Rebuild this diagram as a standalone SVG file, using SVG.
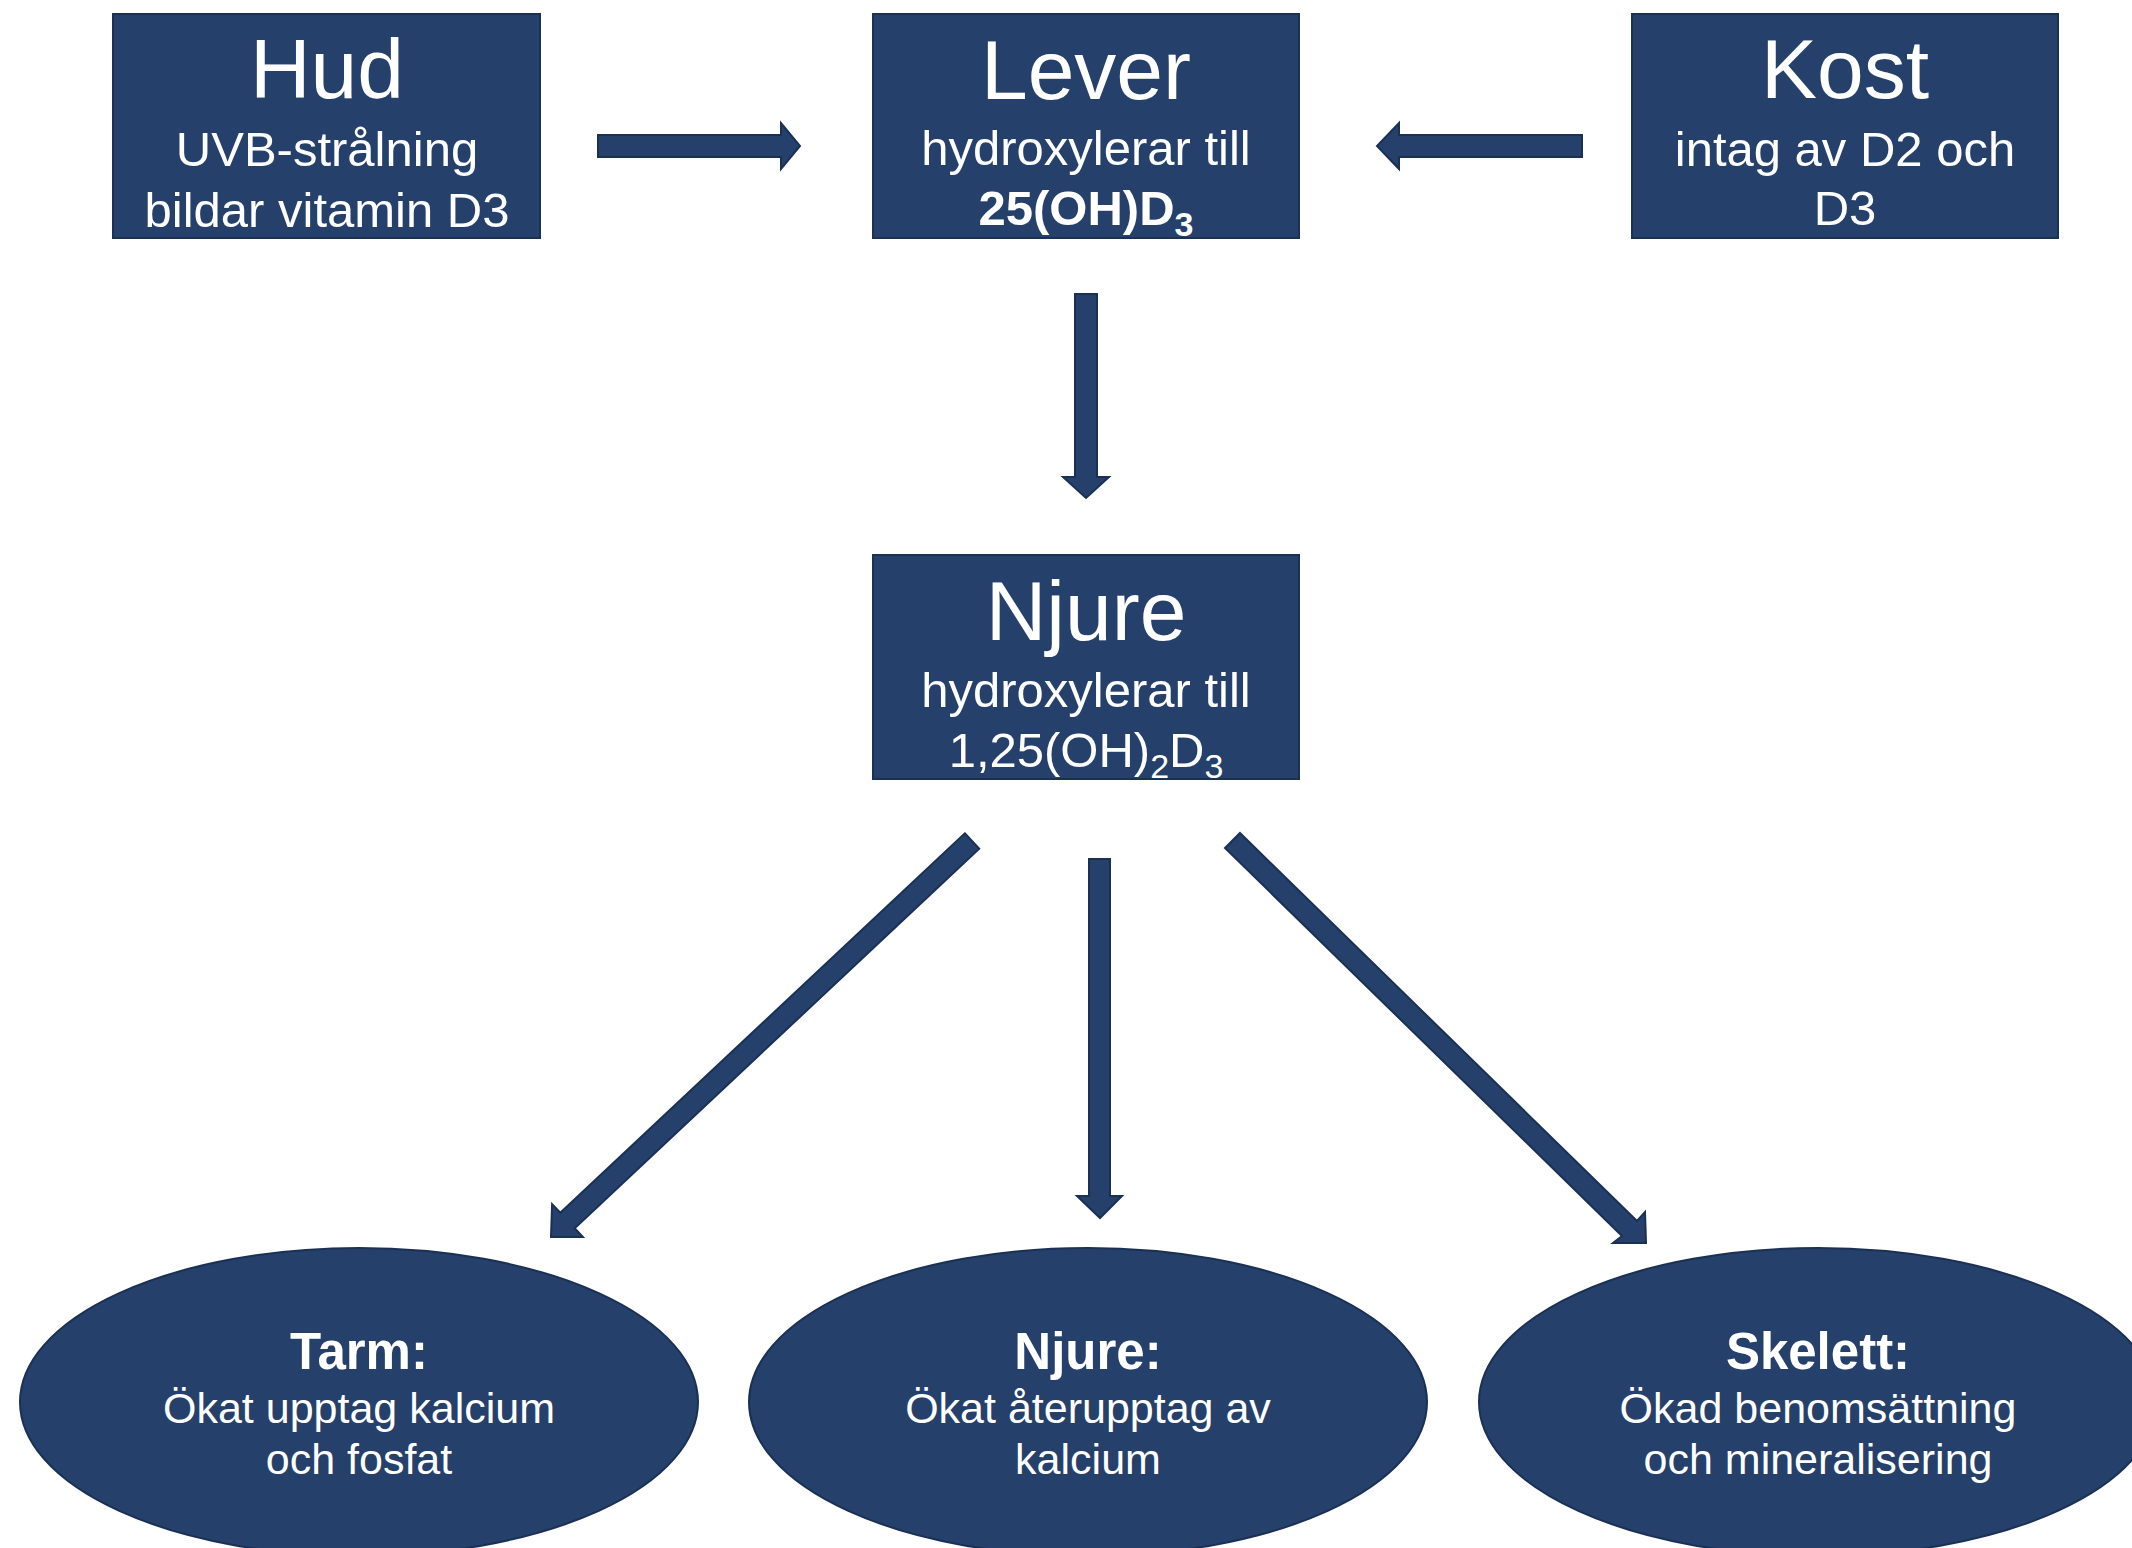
<svg xmlns="http://www.w3.org/2000/svg" width="2132" height="1548" viewBox="0 0 2132 1548">
  <style>
    .box { fill: #25406b; stroke: #1b3154; stroke-width: 2; }
    .ell { fill: #25406b; stroke: #1b3154; stroke-width: 2; }
    .arr { fill: #25406b; stroke: #1b3154; stroke-width: 2; stroke-linejoin: miter; }
    text { font-family: "Liberation Sans", Arial, sans-serif; fill: #ffffff; text-anchor: middle; }
    .title { font-size: 84px; }
    .sub { font-size: 49px; }
    .bold { font-weight: bold; }
    .etitle { font-size: 51px; font-weight: bold; }
    .etext { font-size: 43px; }
  </style>
  <rect x="0" y="0" width="2132" height="1548" fill="#ffffff"/>

  <g id="connectors">
    <!-- Hud -> Lever -->
    <polygon class="arr" points="598,135 781,135 781,123 800,146 781,169 781,157 598,157"/>
    <!-- Kost -> Lever -->
    <polygon class="arr" points="1582,135 1399,135 1399,123 1377,146 1399,169 1399,157 1582,157"/>
    <!-- Lever -> Njure -->
    <polygon class="arr" points="1075,294 1097,294 1097,477 1109,477 1086,498 1063,477 1075,477"/>
    <!-- Njure -> Tarm -->
    <polygon class="arr" points="964.8,833.3 979.2,848.7 574.7,1228.2 582.9,1236.9 551,1237 552.1,1204.1 560.3,1212.8"/>
    <!-- Njure -> Njure: -->
    <polygon class="arr" points="1089,859 1110,859 1110,1196 1122,1196 1100,1218 1077,1196 1089,1196"/>
    <!-- Njure -> Skelett -->
    <polygon class="arr" points="1240,833 1637,1221 1645,1212 1646,1243 1613,1243 1622,1236 1225,848"/>
  </g>

  <g id="node-hud">
    <rect class="box" x="113" y="14" width="427" height="224"/>
    <text class="title" x="327" y="98">Hud</text>
    <text class="sub" x="327" y="166">UVB-strålning</text>
    <text class="sub" x="327" y="227">bildar vitamin D3</text>
  </g>

  <g id="node-lever">
    <rect class="box" x="873" y="14" width="426" height="224"/>
    <text class="title" x="1086" y="99">Lever</text>
    <text class="sub" x="1086" y="165">hydroxylerar till</text>
    <text class="sub bold" x="1086" y="225">25(OH)D<tspan font-size="34" dy="11">3</tspan></text>
  </g>

  <g id="node-kost">
    <rect class="box" x="1632" y="14" width="426" height="224"/>
    <text class="title" x="1845" y="98">Kost</text>
    <text class="sub" x="1845" y="166">intag av D2 och</text>
    <text class="sub" x="1845" y="225">D3</text>
  </g>

  <g id="node-njure">
    <rect class="box" x="873" y="555" width="426" height="224"/>
    <text class="title" x="1086" y="640">Njure</text>
    <text class="sub" x="1086" y="707">hydroxylerar till</text>
    <text class="sub" x="1086" y="767">1,25(OH)<tspan font-size="34" dy="11">2</tspan><tspan dy="-11">D</tspan><tspan font-size="34" dy="11">3</tspan></text>
  </g>

  <g id="node-tarm">
    <ellipse class="ell" cx="359" cy="1402" rx="339" ry="154"/>
    <text class="etitle" x="359" y="1369">Tarm:</text>
    <text class="etext" x="359" y="1423">Ökat upptag kalcium</text>
    <text class="etext" x="359" y="1474">och fosfat</text>
  </g>

  <g id="node-njure-effekt">
    <ellipse class="ell" cx="1088" cy="1402" rx="339" ry="154"/>
    <text class="etitle" x="1088" y="1369">Njure:</text>
    <text class="etext" x="1088" y="1423">Ökat återupptag av</text>
    <text class="etext" x="1088" y="1474">kalcium</text>
  </g>

  <g id="node-skelett">
    <ellipse class="ell" cx="1818" cy="1402" rx="339" ry="154"/>
    <text class="etitle" x="1818" y="1369">Skelett:</text>
    <text class="etext" x="1818" y="1423">Ökad benomsättning</text>
    <text class="etext" x="1818" y="1474">och mineralisering</text>
  </g>
</svg>
